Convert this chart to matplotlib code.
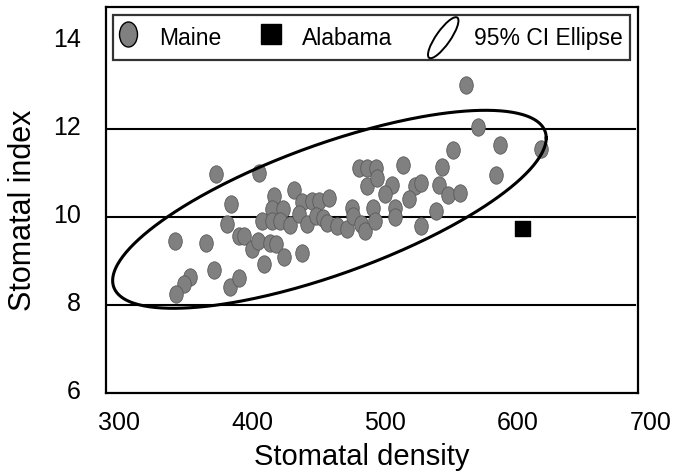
"""Stomatal index vs stomatal density, Maine vs Alabama."""

import numpy as np
import matplotlib
matplotlib.use("Agg")
import matplotlib.pyplot as plt
import matplotlib.patches as mpatches
import matplotlib.transforms as mtrans
from matplotlib.lines import Line2D
from matplotlib.markers import MarkerStyle
from matplotlib.legend_handler import HandlerPatch

plt.rcParams["font.family"] = ["Liberation Sans", "DejaVu Sans"]

# Maine samples (stomatal density, stomatal index)
maine_density = [
    383, 415, 352, 375, 394, 391, 426, 441, 447, 455, 460, 468,
    425, 433, 417, 425, 431, 438, 445, 451, 458, 463, 466, 474,
    481, 485, 486, 492, 495, 490, 496, 503, 496, 501, 400, 404,
    410, 414, 423, 428, 434, 447, 419, 381, 363, 359, 353, 393,
    400, 571, 580, 596, 627, 593, 561, 553, 523, 504, 515, 510,
    532, 537, 550, 557, 566, 528, 517, 517, 502, 537, 548,
]
maine_index = [
    10.97, 11.01, 9.45, 9.42, 10.30, 9.85, 10.48, 10.61, 10.33, 10.36, 10.36, 10.44,
    10.18, 10.18, 9.91, 9.91, 9.91, 9.82, 10.06, 9.83, 10.02, 9.98, 9.87, 9.80,
    9.72, 10.21, 10.02, 9.83, 9.68, 11.12, 11.12, 11.12, 10.70, 10.21, 9.57, 9.57,
    9.27, 9.45, 9.42, 9.38, 9.08, 9.19, 8.94, 8.79, 8.64, 8.48, 8.24, 8.41,
    8.62, 13.00, 12.05, 11.64, 11.54, 10.95, 11.52, 11.14, 11.18, 10.89, 10.73, 10.52,
    10.70, 10.78, 10.73, 10.50, 10.55, 10.40, 10.21, 10.00, 9.91, 9.80, 10.14,
]

# Alabama sample
alabama_density = [613]
alabama_index = [9.75]

# 95% CI ellipse: centre, half ranges and phase between x and y
ell_center = (468.0, 10.175)
ell_half_x = 163.0
ell_half_y = 2.25
ell_phase = np.arccos(0.72)

x_ticks = [300, 400, 500, 600, 700]
y_ticks = [6, 8, 10, 12, 14]
grid_levels = [8, 10, 12]

fig = plt.figure(figsize=(6.75, 4.74), dpi=100)
ax = fig.add_axes([106 / 675, 81 / 474, 532 / 675, 386 / 474])

ax.set_xlim(300, 700)
ax.set_ylim(6, 6 + 386 / 44)

for lvl in grid_levels:
    ax.axhline(lvl, xmin=0, xmax=0.994, color="black", lw=1.5, zorder=1)

# Maine points drawn as upright ovals
oval = MarkerStyle("o", transform=mtrans.Affine2D().scale(0.78, 1.0))
ax.scatter(maine_density, maine_index, marker=oval, s=12.5 ** 2,
           facecolor="#808080", edgecolor="#5a5a5a", linewidths=0.6, zorder=3)
ax.scatter(alabama_density, alabama_index, marker="s", s=10.8 ** 2,
           color="black", zorder=3)

t = np.linspace(0, 2 * np.pi, 400)
ex = ell_center[0] + ell_half_x * np.cos(t)
ey = ell_center[1] + ell_half_y * np.cos(t - ell_phase)
ax.plot(ex, ey, color="black", lw=2.2, zorder=4)

ax.set_xticks(x_ticks)
ax.set_yticks(y_ticks)
ax.tick_params(length=0, labelsize=18)
ax.tick_params(axis="x", pad=13)
ax.tick_params(axis="y", pad=18)
for lab in ax.get_xticklabels():
    lab.set_transform(lab.get_transform() + mtrans.ScaledTranslation(0.13, 0, fig.dpi_scale_trans))
for lab in ax.get_yticklabels():
    lab.set_transform(lab.get_transform() + mtrans.ScaledTranslation(0, 0.035, fig.dpi_scale_trans))

ax.set_xlabel("Stomatal density", fontsize=21)
ax.set_ylabel("Stomatal index", fontsize=22)
ax.xaxis.set_label_coords(0.481, -0.13)
ax.yaxis.set_label_coords(-0.128, 0.474)

for sp in ax.spines.values():
    sp.set_linewidth(1.6)
    sp.set_color("black")


class HandlerEllipse(HandlerPatch):
    def create_artists(self, legend, orig_handle, xdescent, ydescent,
                       width, height, fontsize, trans):
        cx = 0.5 * width - xdescent
        cy = 0.5 * height - ydescent
        p = mpatches.Ellipse((cx, cy), width=1.55 * height, height=0.45 * height,
                             angle=55, fill=False, edgecolor="black", lw=1.4)
        p.set_transform(trans)
        return [p]


handles = [
    Line2D([], [], ls="none", marker=MarkerStyle("o", transform=mtrans.Affine2D().scale(0.72, 1.0)),
           markersize=18, markerfacecolor="#808080", markeredgecolor="black", markeredgewidth=1.0),
    Line2D([], [], ls="none", marker="s", markersize=14, color="black"),
    mpatches.Ellipse((0, 0), 1, 1, fill=False),
]
labels = ["Maine", "Alabama", "95% CI Ellipse"]
leg = ax.legend(handles, labels, ncol=3, loc="upper left",
                bbox_to_anchor=(7 / 532, 1 - 8 / 386), borderaxespad=0,
                fontsize=16.5, frameon=True, fancybox=False,
                handlelength=0.7, handleheight=1.75, handletextpad=1.0,
                columnspacing=1.85, borderpad=0.3,
                handler_map={mpatches.Ellipse: HandlerEllipse()})
leg.get_frame().set_edgecolor("black")
leg.get_frame().set_linewidth(1.6)

fig.savefig("out.png", dpi=100)
